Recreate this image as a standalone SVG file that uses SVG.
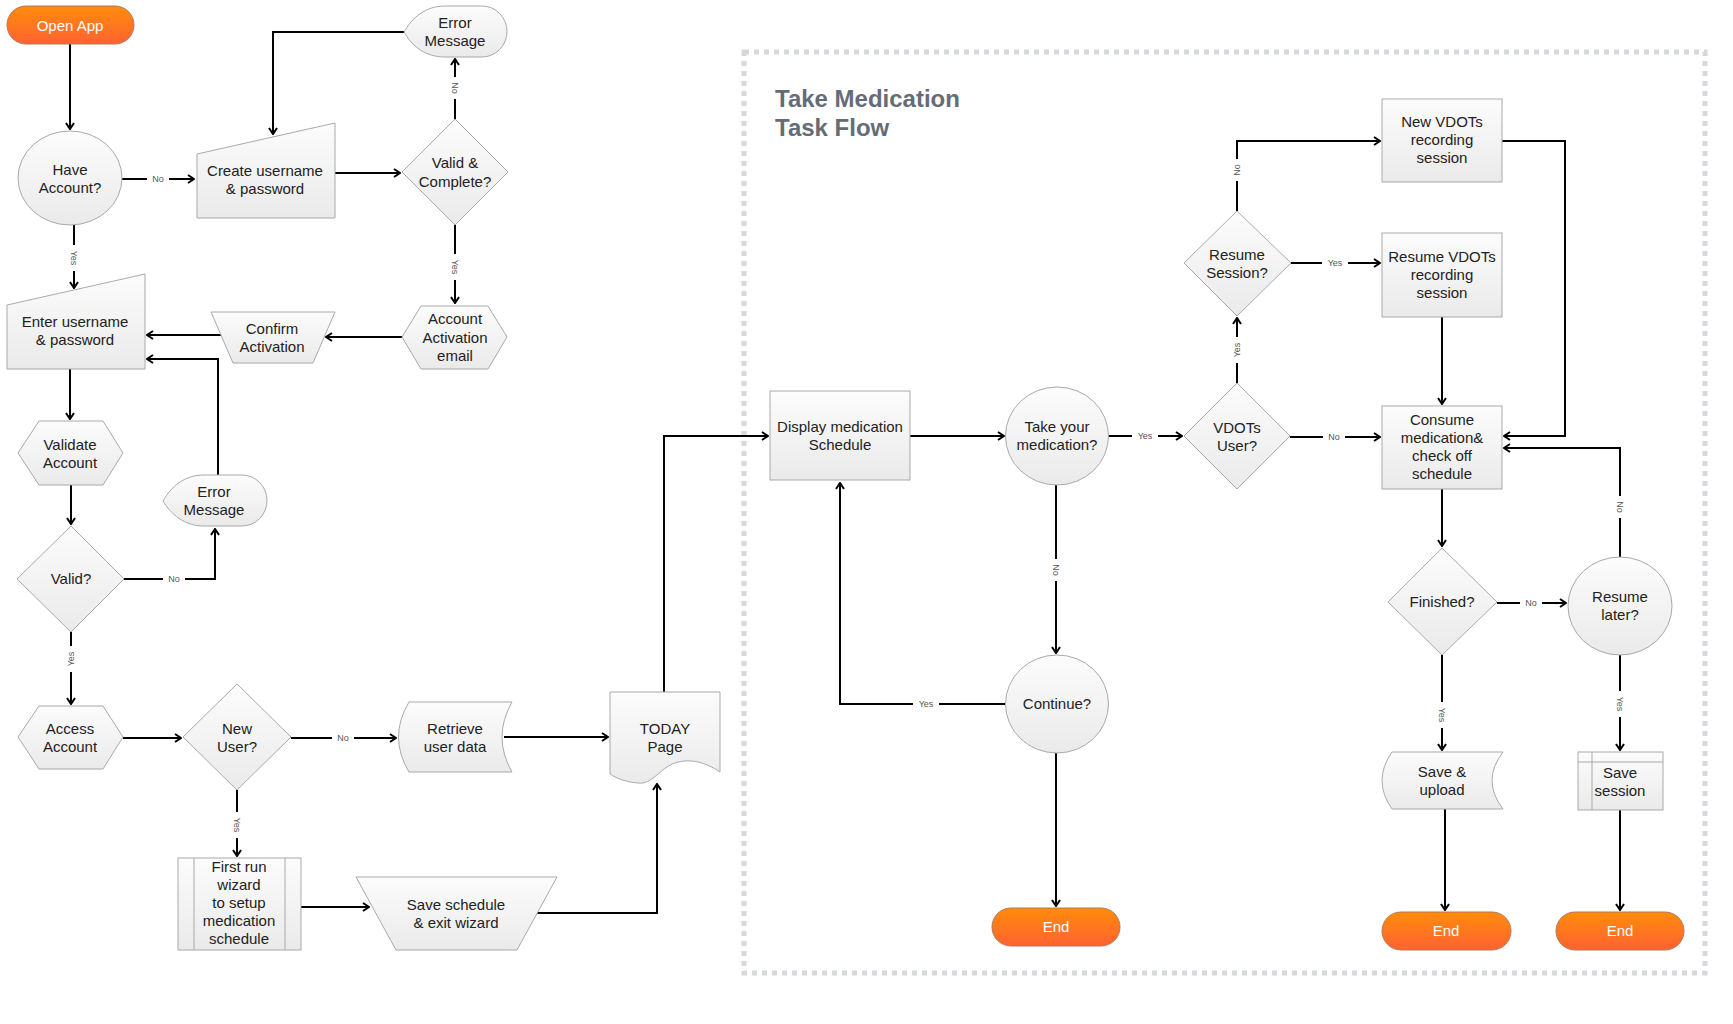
<svg xmlns="http://www.w3.org/2000/svg" width="1733" height="1024" viewBox="0 0 1733 1024">
<defs>
<linearGradient id="gn" x1="0" y1="0" x2="0" y2="1"><stop offset="0" stop-color="#fcfcfc"/><stop offset="1" stop-color="#eaeaea"/></linearGradient>
<linearGradient id="go" x1="0" y1="0" x2="0" y2="1"><stop offset="0" stop-color="#ff8c0a"/><stop offset="1" stop-color="#ff6232"/></linearGradient>
<marker id="ar" viewBox="0 0 10 10" markerWidth="10" markerHeight="10" markerUnits="userSpaceOnUse" refX="9" refY="5" orient="auto"><path d="M3,1 L9,5 L3,9" fill="none" stroke="#000" stroke-width="2"/></marker>
<style>
.n{fill:url(#gn);stroke:#a9a9a9;stroke-width:1}
.p{fill:url(#go);stroke:#b07a58;stroke-width:1}
.il{fill:none;stroke:#a9a9a9;stroke-width:1}
.t{font-family:"Liberation Sans",Arial,sans-serif;font-size:15px;fill:#222;text-anchor:middle}
.pt{font-family:"Liberation Sans",Arial,sans-serif;font-size:15px;fill:#fff;text-anchor:middle}
.c{fill:none;stroke:#000;stroke-width:2;marker-end:url(#ar)}
.cl{fill:none;stroke:#000;stroke-width:2}
.lb{font-family:"Liberation Sans",Arial,sans-serif;font-size:9px;fill:#555;text-anchor:middle}
.lr{fill:#fff}
.title{font-family:"Liberation Sans",Arial,sans-serif;font-size:24px;font-weight:bold;fill:#646c76}
.frame{fill:none;stroke:#d6d8dc;stroke-width:5;stroke-dasharray:5 5}
</style>
</defs>
<rect width="1733" height="1024" fill="#fff"/>
<rect class="frame" x="744" y="52" width="961" height="921"/>
<g id="title"><text class="title" x="775" y="107">Take Medication</text><text class="title" x="775" y="136">Task Flow</text></g>

<g id="connectors">
<path class="c" d="M70,44 V129"/>
<path class="c" d="M122,179 H194"/>
<path class="c" d="M74,225 V288"/>
<path class="c" d="M335,173 H400"/>
<path class="c" d="M455,119 V59"/>
<path class="c" d="M404,32 H273 V134"/>
<path class="c" d="M455,225 V303"/>
<path class="c" d="M402,337 H326"/>
<path class="c" d="M221,335 H147"/>
<path class="c" d="M218,475 V359 H147"/>
<path class="c" d="M70,369 V419"/>
<path class="c" d="M71,485 V524"/>
<path class="c" d="M124,579 H215 V529"/>
<path class="c" d="M71,632 V704"/>
<path class="c" d="M123,738 H181"/>
<path class="c" d="M291,738 H396"/>
<path class="c" d="M237,790 V856"/>
<path class="c" d="M301,907 H369"/>
<path class="c" d="M536,913 H657 V784"/>
<path class="c" d="M504,737 H608"/>
<path class="c" d="M664,692 V436 H768"/>
<path class="c" d="M910,436 H1004"/>
<path class="c" d="M1108,436 H1182"/>
<path class="c" d="M1237,383 V318"/>
<path class="c" d="M1237,211 V141 H1380"/>
<path class="c" d="M1291,263 H1380"/>
<path class="c" d="M1290,437 H1380"/>
<path class="c" d="M1442,317 V404"/>
<path class="c" d="M1502,141 H1565 V436 H1504"/>
<path class="c" d="M1620,557 V448 H1504"/>
<path class="c" d="M1442,489 V546"/>
<path class="c" d="M1497,603 H1566"/>
<path class="c" d="M1442,655 V750"/>
<path class="c" d="M1620,655 V750"/>
<path class="c" d="M1445,809 V910"/>
<path class="c" d="M1620,810 V910"/>
<path class="c" d="M1056,485 V653"/>
<path class="c" d="M1005,704 H840 V483"/>
<path class="c" d="M1056,753 V906"/>
<g transform="translate(158,179)"><rect class="lr" x="-11" y="-6" width="22" height="12"/><text class="lb" y="3">No</text></g>
<g transform="translate(74,258) rotate(90)"><rect class="lr" x="-13" y="-6" width="26" height="12"/><text class="lb" y="3">Yes</text></g>
<g transform="translate(455,88) rotate(90)"><rect class="lr" x="-11" y="-6" width="22" height="12"/><text class="lb" y="3">No</text></g>
<g transform="translate(455,267) rotate(90)"><rect class="lr" x="-13" y="-6" width="26" height="12"/><text class="lb" y="3">Yes</text></g>
<g transform="translate(174,579)"><rect class="lr" x="-11" y="-6" width="22" height="12"/><text class="lb" y="3">No</text></g>
<g transform="translate(71,659) rotate(-90)"><rect class="lr" x="-13" y="-6" width="26" height="12"/><text class="lb" y="3">Yes</text></g>
<g transform="translate(343,738)"><rect class="lr" x="-11" y="-6" width="22" height="12"/><text class="lb" y="3">No</text></g>
<g transform="translate(237,825) rotate(90)"><rect class="lr" x="-13" y="-6" width="26" height="12"/><text class="lb" y="3">Yes</text></g>
<g transform="translate(1145,436)"><rect class="lr" x="-13" y="-6" width="26" height="12"/><text class="lb" y="3">Yes</text></g>
<g transform="translate(1237,350) rotate(-90)"><rect class="lr" x="-13" y="-6" width="26" height="12"/><text class="lb" y="3">Yes</text></g>
<g transform="translate(1237,170) rotate(-90)"><rect class="lr" x="-11" y="-6" width="22" height="12"/><text class="lb" y="3">No</text></g>
<g transform="translate(1335,263)"><rect class="lr" x="-13" y="-6" width="26" height="12"/><text class="lb" y="3">Yes</text></g>
<g transform="translate(1334,437)"><rect class="lr" x="-11" y="-6" width="22" height="12"/><text class="lb" y="3">No</text></g>
<g transform="translate(1620,507) rotate(90)"><rect class="lr" x="-11" y="-6" width="22" height="12"/><text class="lb" y="3">No</text></g>
<g transform="translate(1531,603)"><rect class="lr" x="-11" y="-6" width="22" height="12"/><text class="lb" y="3">No</text></g>
<g transform="translate(1442,715) rotate(90)"><rect class="lr" x="-13" y="-6" width="26" height="12"/><text class="lb" y="3">Yes</text></g>
<g transform="translate(1620,704) rotate(90)"><rect class="lr" x="-13" y="-6" width="26" height="12"/><text class="lb" y="3">Yes</text></g>
<g transform="translate(1056,570) rotate(90)"><rect class="lr" x="-11" y="-6" width="22" height="12"/><text class="lb" y="3">No</text></g>
<g transform="translate(926,704)"><rect class="lr" x="-13" y="-6" width="26" height="12"/><text class="lb" y="3">Yes</text></g>
</g>

<g id="open-app"><rect class="p" x="7" y="6" width="127" height="38" rx="19"/><text class="pt" x="70" y="31">Open App</text></g>
<g id="have-account"><ellipse class="n" cx="70" cy="178" rx="52" ry="47"/><text class="t" x="70" y="175">Have</text><text class="t" x="70" y="193">Account?</text></g>
<g id="create-username"><polygon class="n" points="197,154 335,123 335,218 197,218"/><text class="t" x="265" y="176">Create username</text><text class="t" x="265" y="194">&amp; password</text></g>
<g id="valid-complete"><polygon class="n" points="455,119 508,172 455,225 402,172"/><text class="t" x="455" y="168">Valid &amp;</text><text class="t" x="455" y="187">Complete?</text></g>
<g id="error-top"><path class="n" d="M404,32 C412,18 425,6 445,6 L482,6 A25 25.5 0 0 1 482,57 L445,57 C425,57 412,46 404,32 Z"/><text class="t" x="455" y="28">Error</text><text class="t" x="455" y="46">Message</text></g>
<g id="account-activation"><polygon class="n" points="402,337 421,306 488,306 507,337 488,369 421,369"/><text class="t" x="455" y="324">Account</text><text class="t" x="455" y="343">Activation</text><text class="t" x="455" y="361">email</text></g>
<g id="confirm-activation"><polygon class="n" points="211,312 335,312 313,363 233,363"/><text class="t" x="272" y="334">Confirm</text><text class="t" x="272" y="352">Activation</text></g>
<g id="enter-username"><polygon class="n" points="7,305 145,274 145,369 7,369"/><text class="t" x="75" y="327">Enter username</text><text class="t" x="75" y="345">&amp; password</text></g>
<g id="validate-account"><polygon class="n" points="18,453 39,421 103,421 123,453 103,485 39,485"/><text class="t" x="70" y="450">Validate</text><text class="t" x="70" y="468">Account</text></g>
<g id="error-mid"><path class="n" d="M163,501 C171,487 184,475 204,475 L242,475 A25 25.5 0 0 1 242,526 L204,526 C184,526 171,514 163,501 Z"/><text class="t" x="214" y="497">Error</text><text class="t" x="214" y="515">Message</text></g>
<g id="valid"><polygon class="n" points="71,526 124,579 71,632 17,579"/><text class="t" x="71" y="584">Valid?</text></g>
<g id="access-account"><polygon class="n" points="18,737 39,706 103,706 123,737 103,769 39,769"/><text class="t" x="70" y="734">Access</text><text class="t" x="70" y="752">Account</text></g>
<g id="new-user"><polygon class="n" points="237,684 291,737 237,790 183,737"/><text class="t" x="237" y="734">New</text><text class="t" x="237" y="752">User?</text></g>
<g id="retrieve"><path class="n" d="M409,702 L512,702 Q492,737 512,772 L409,772 Q388,737 409,702 Z"/><text class="t" x="455" y="734">Retrieve</text><text class="t" x="455" y="752">user data</text></g>
<g id="today"><path class="n" d="M610,692 H720 V772 C705,762 690,758 675,763 C660,768 652,785 638,783 C625,782 616,778 610,774 Z"/><text class="t" x="665" y="734">TODAY</text><text class="t" x="665" y="752">Page</text></g>
<g id="first-run"><rect class="n" x="178" y="858" width="123" height="92"/><line class="il" x1="194" y1="858" x2="194" y2="950"/><line class="il" x1="285" y1="858" x2="285" y2="950"/><text class="t" x="239" y="872">First run</text><text class="t" x="239" y="890">wizard</text><text class="t" x="239" y="908">to setup</text><text class="t" x="239" y="926">medication</text><text class="t" x="239" y="944">schedule</text></g>
<g id="save-schedule"><polygon class="n" points="356,877 557,877 517,950 396,950"/><text class="t" x="456" y="910">Save schedule</text><text class="t" x="456" y="928">&amp; exit wizard</text></g>
<g id="display-med"><rect class="n" x="770" y="391" width="140" height="89"/><text class="t" x="840" y="432">Display medication</text><text class="t" x="840" y="450">Schedule</text></g>
<g id="take-med"><ellipse class="n" cx="1057" cy="436" rx="51.5" ry="49"/><text class="t" x="1057" y="432">Take your</text><text class="t" x="1057" y="450">medication?</text></g>
<g id="vdots-user"><polygon class="n" points="1237,383 1290,436 1237,489 1184,436"/><text class="t" x="1237" y="433">VDOTs</text><text class="t" x="1237" y="451">User?</text></g>
<g id="resume-session"><polygon class="n" points="1237,211 1291,263 1237,316 1184,263"/><text class="t" x="1237" y="260">Resume</text><text class="t" x="1237" y="278">Session?</text></g>
<g id="new-vdots"><rect class="n" x="1382" y="99" width="120" height="83"/><text class="t" x="1442" y="127">New VDOTs</text><text class="t" x="1442" y="145">recording</text><text class="t" x="1442" y="163">session</text></g>
<g id="resume-vdots"><rect class="n" x="1382" y="233" width="120" height="84"/><text class="t" x="1442" y="262">Resume VDOTs</text><text class="t" x="1442" y="280">recording</text><text class="t" x="1442" y="298">session</text></g>
<g id="consume"><rect class="n" x="1382" y="406" width="120" height="83"/><text class="t" x="1442" y="425">Consume</text><text class="t" x="1442" y="443">medication&amp;</text><text class="t" x="1442" y="461">check off</text><text class="t" x="1442" y="479">schedule</text></g>
<g id="finished"><polygon class="n" points="1442,548 1497,602 1442,655 1388,602"/><text class="t" x="1442" y="607">Finished?</text></g>
<g id="resume-later"><ellipse class="n" cx="1620" cy="606" rx="52" ry="49"/><text class="t" x="1620" y="602">Resume</text><text class="t" x="1620" y="620">later?</text></g>
<g id="save-upload"><path class="n" d="M1392,752 H1503 Q1481,780.5 1503,809 H1392 Q1372,780.5 1392,752 Z"/><text class="t" x="1442" y="777">Save &amp;</text><text class="t" x="1442" y="795">upload</text></g>
<g id="save-session"><rect class="n" x="1578" y="752" width="85" height="58"/><line class="il" x1="1592" y1="752" x2="1592" y2="810"/><line class="il" x1="1578" y1="762" x2="1663" y2="762"/><text class="t" x="1620" y="778">Save</text><text class="t" x="1620" y="796">session</text></g>
<g id="continue"><ellipse class="n" cx="1057" cy="704" rx="51.5" ry="49"/><text class="t" x="1057" y="709">Continue?</text></g>
<g id="end-1"><rect class="p" x="992" y="908" width="128" height="38" rx="19"/><text class="pt" x="1056" y="932">End</text></g>
<g id="end-2"><rect class="p" x="1382" y="912" width="129" height="38" rx="19"/><text class="pt" x="1446" y="936">End</text></g>
<g id="end-3"><rect class="p" x="1556" y="912" width="128" height="38" rx="19"/><text class="pt" x="1620" y="936">End</text></g>
</svg>
